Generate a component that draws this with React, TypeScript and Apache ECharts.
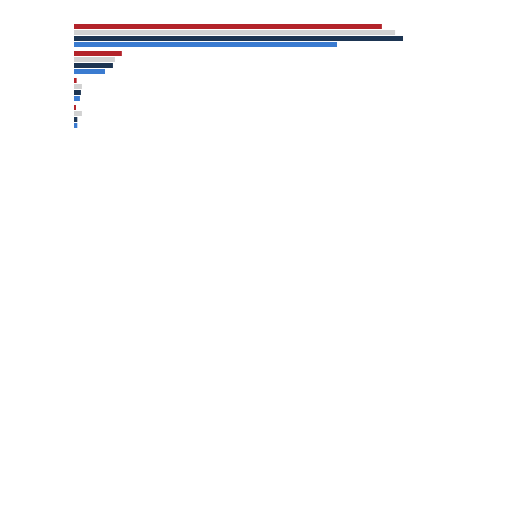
import { useEffect, useRef } from 'react'
import * as echarts from 'echarts'

const categories = ['A', 'B', 'C', 'D']
const redValues = [93.3, 14.5, 0.8, 0.6]
const grayValues = [97.3, 12.4, 2.4, 2.4]
const navyValues = [99.7, 11.8, 2.1, 1.0]
const blueValues = [79.7, 9.4, 1.8, 1.0]

const seriesNames = ['Red', 'Gray', 'Navy', 'Blue']
const seriesColors = ['#b3232a', '#d2d2d2', '#1d3552', '#3a7bd0']

export default function App() {
  const chartRef = useRef<HTMLDivElement>(null)

  useEffect(() => {
    if (!chartRef.current) return
    const chart = echarts.init(chartRef.current, undefined, { renderer: 'svg' })

    const allValues = [redValues, grayValues, navyValues, blueValues]

    const option: echarts.EChartsOption = {
      animation: false,
      // the page body has an 8px margin, so the grid is offset by it
      grid: { left: 66, top: 14, width: 330, height: 108 },
      xAxis: {
        type: 'value',
        min: 0,
        max: 100,
        show: false
      },
      yAxis: {
        type: 'category',
        data: categories,
        inverse: true,
        axisLine: { show: false },
        axisTick: { show: false },
        axisLabel: { show: false },
        splitLine: { show: false }
      },
      series: allValues.map((values, i) => ({
        name: seriesNames[i],
        type: 'bar',
        data: values,
        barWidth: 5,
        barGap: '20%',
        itemStyle: { color: seriesColors[i] }
      }))
    }

    chart.setOption(option)
    return () => chart.dispose()
  }, [])

  return <div ref={chartRef} style={{ width: 496, height: 496 }} />
}
